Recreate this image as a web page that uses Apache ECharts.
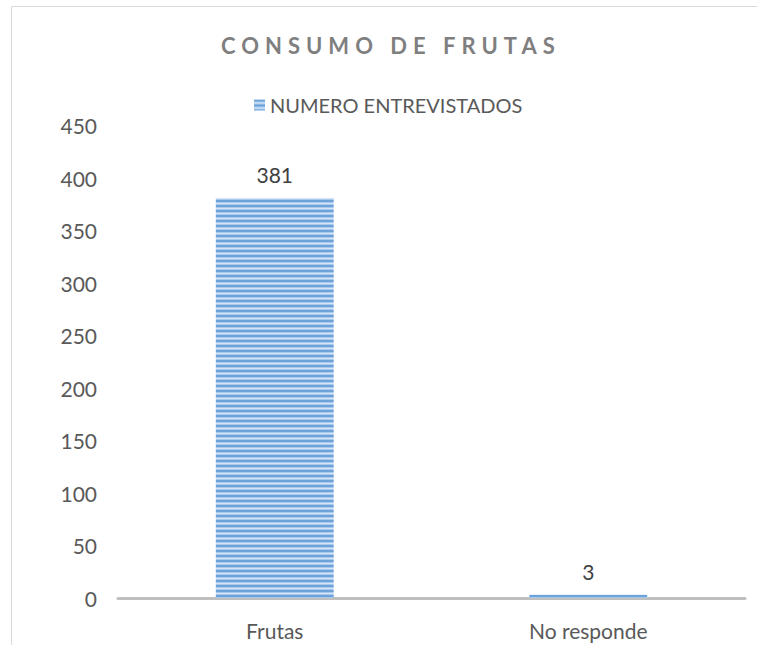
<!DOCTYPE html>
<html>
<head>
<meta charset="utf-8">
<script src="https://cdn.jsdelivr.net/npm/echarts@6/dist/echarts.min.js"></script>
<style>
  html, body { margin: 0; padding: 0; background: #fff; }
  #main { width: 757px; height: 645px; }
  /* title is the only bold text: give it the wide letter spacing */
  #main svg text[style*="bold"] { letter-spacing: 6px; }
</style>
</head>
<body>
<div id="main"></div>
<script>
// data
const categories = ['Frutas', 'No responde'];
const entrevistados = [381, 3];
const seriesName = 'NUMERO ENTREVISTADOS';
const yMin = 0, yMax = 450, yStep = 50;

// horizontal stripe fill like the original bars
function stripeCanvas() {
  const c = document.createElement('canvas');
  c.width = 5; c.height = 5;
  const ctx = c.getContext('2d');
  ctx.fillStyle = '#6ea2da'; ctx.fillRect(0, 0, 5, 2);
  ctx.fillStyle = '#a9c9ec'; ctx.fillRect(0, 2, 5, 1);
  ctx.fillStyle = '#d3e5f7'; ctx.fillRect(0, 3, 5, 1);
  ctx.fillStyle = '#a9c9ec'; ctx.fillRect(0, 4, 5, 1);
  return c;
}
const stripes = { image: stripeCanvas(), repeat: 'repeat', imageWidth: 5, imageHeight: 5 };

const chart = echarts.init(document.getElementById('main'), null, { renderer: 'svg' });

const font = 'Lato';
const option = {
  animation: false,
  backgroundColor: '#fff',
  title: {
    text: 'CONSUMO DE FRUTAS',
    left: 221,
    top: 34,
    padding: 0,
    textStyle: { fontFamily: font, fontSize: 22, fontWeight: 'bold', color: '#7f7f7f' }
  },
  legend: {
    data: [seriesName],
    left: 254,
    top: 95,
    padding: 0,
    itemWidth: 11,
    itemHeight: 11,
    icon: 'rect',
    textStyle: { fontFamily: font, fontSize: 20, color: '#595959' }
  },
  graphic: [{
    type: 'rect',
    silent: true,
    z: -10,
    shape: { x: 11.5, y: 6.5, width: 800, height: 700 },
    style: { fill: 'none', stroke: '#d9d9d9', lineWidth: 1 }
  }],
  grid: { left: 118, right: 12, top: 125.5, bottom: 47 },
  xAxis: {
    type: 'category',
    data: categories,
    axisTick: { show: false },
    axisLine: { lineStyle: { color: '#bfbfbf', width: 3 } },
    axisLabel: { fontFamily: font, fontSize: 21, color: '#595959', margin: 22 }
  },
  yAxis: {
    type: 'value',
    min: yMin,
    max: yMax,
    interval: yStep,
    axisLine: { show: false },
    axisTick: { show: false },
    splitLine: { show: false },
    axisLabel: { fontFamily: font, fontSize: 21, color: '#595959', margin: 21 }
  },
  series: [{
    name: seriesName,
    type: 'bar',
    data: entrevistados,
    barWidth: '37.6%',
    itemStyle: { color: stripes },
    label: {
      show: true,
      position: 'top',
      distance: 13,
      fontFamily: font,
      fontSize: 21,
      color: '#404040'
    }
  }]
};
chart.setOption(option);
</script>
</body>
</html>
